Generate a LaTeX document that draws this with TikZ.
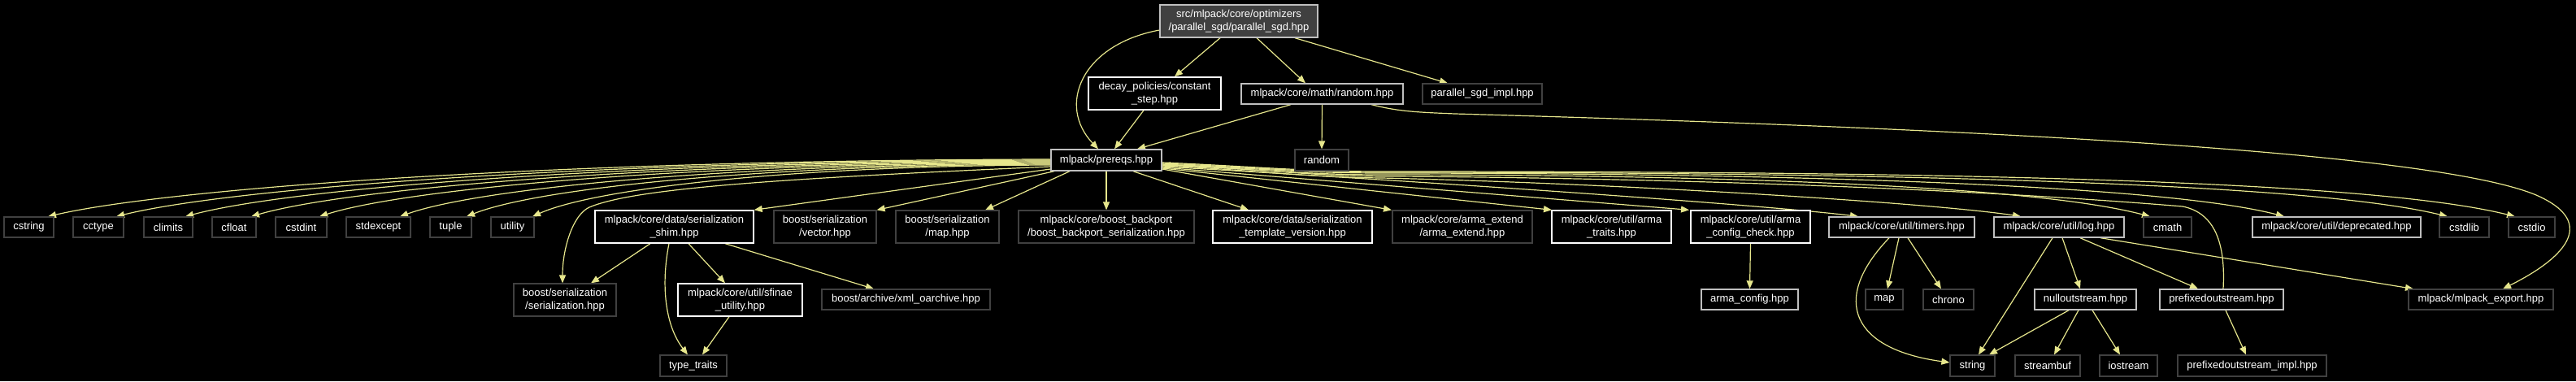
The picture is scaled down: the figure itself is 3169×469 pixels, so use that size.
\documentclass[tikz,border=0pt]{standalone}
\usepackage{fontspec}
\setmainfont{Liberation Sans}
\usetikzlibrary{arrows.meta,calc}
\definecolor{edgec}{RGB}{230,230,140}
\definecolor{darkb}{RGB}{64,64,64}
\definecolor{lightb}{RGB}{191,191,191}
\definecolor{topfill}{RGB}{64,64,64}
\pgfdeclarelayer{edgelayer}
\pgfsetlayers{edgelayer,main}
\newcommand\mknode[7]{%
 \pgfmathsetmacro\ndcx{(#2+#4)/2}%
 \pgfmathsetmacro\ndcy{(#3+#5)/2}%
 \pgfmathsetmacro\ndw{#4-#2}%
 \pgfmathsetmacro\ndh{#5-#3}%
 \node[#6, minimum width=\ndw pt, minimum height=\ndh pt] (#1) at (\ndcx,\ndcy) {#7};}
\begin{document}
\begin{tikzpicture}[x=1pt,y=-1pt,
 nbase/.style={rectangle, inner sep=0pt, align=center, text=white, fill=black, font=\fontsize{13}{15.3}\selectfont},
 sysbox/.style={nbase, draw=darkb, line width=1.2pt},
 docbox/.style={nbase, draw=white, line width=1.4pt},
 grybox/.style={nbase, draw=lightb, line width=1.4pt},
 topbox/.style={nbase, draw=lightb, fill=topfill, line width=1.4pt},
 dep/.style={draw=edgec, line width=1.2pt, -{Triangle[length=10pt,width=8pt,fill=edgec]}},
]
\useasboundingbox (0,0) rectangle (3169,469);
% row 0-2
\mknode{top}{1427}{6}{1621}{46}{topbox}{src/mlpack/core/optimizers\\/parallel\_sgd/parallel\_sgd.hpp}
\mknode{decay}{1339}{95}{1502}{135}{docbox}{decay\_policies/constant\\\_step.hpp}
\mknode{randhpp}{1527}{103}{1726}{128}{grybox}{mlpack/core/math/random.hpp}
\mknode{impl}{1750}{103}{1897}{128}{sysbox}{parallel\_sgd\_impl.hpp}
\mknode{prereqs}{1293}{184}{1429}{210}{grybox}{mlpack/prereqs.hpp}
\mknode{random}{1593}{184}{1659}{210}{sysbox}{random}
% row 3
\mknode{cstring}{5}{267}{66}{292}{sysbox}{cstring}
\mknode{cctype}{90}{267}{152}{292}{sysbox}{cctype}
\mknode{climits}{177}{267}{237}{292}{sysbox}{climits}
\mknode{cfloat}{261}{267}{315}{292}{sysbox}{cfloat}
\mknode{cstdint}{339}{267}{402}{292}{sysbox}{cstdint}
\mknode{stdexcept}{426}{267}{505}{292}{sysbox}{stdexcept}
\mknode{tuple}{529}{267}{580}{292}{sysbox}{tuple}
\mknode{utility}{604}{267}{657}{292}{sysbox}{utility}
\mknode{shim}{732}{259}{927}{299}{docbox}{mlpack/core/data/serialization\\\_shim.hpp}
\mknode{vector}{952}{259}{1078}{299}{sysbox}{boost/serialization\\/vector.hpp}
\mknode{bmap}{1102}{259}{1229}{299}{sysbox}{boost/serialization\\/map.hpp}
\mknode{backport}{1253}{259}{1469}{299}{sysbox}{mlpack/core/boost\_backport\\/boost\_backport\_serialization.hpp}
\mknode{templ}{1492}{259}{1688}{299}{docbox}{mlpack/core/data/serialization\\\_template\_version.hpp}
\mknode{armaext}{1713}{259}{1885}{299}{sysbox}{mlpack/core/arma\_extend\\/arma\_extend.hpp}
\mknode{armatr}{1909}{259}{2056}{299}{docbox}{mlpack/core/util/arma\\\_traits.hpp}
\mknode{acc}{2080}{259}{2227}{299}{docbox}{mlpack/core/util/arma\\\_config\_check.hpp}
\mknode{timers}{2250}{267}{2429}{292}{grybox}{mlpack/core/util/timers.hpp}
\mknode{log}{2453}{267}{2613}{292}{grybox}{mlpack/core/util/log.hpp}
\mknode{cmath}{2637}{267}{2696}{292}{sysbox}{cmath}
\mknode{deprec}{2771}{267}{2978}{292}{grybox}{mlpack/core/util/deprecated.hpp}
\mknode{cstdlib}{3001}{267}{3062}{292}{sysbox}{cstdlib}
\mknode{cstdio}{3086}{267}{3143}{292}{sysbox}{cstdio}
% row 4
\mknode{serial}{632}{349}{758}{389}{sysbox}{boost/serialization\\/serialization.hpp}
\mknode{sfinae}{834}{349}{987}{389}{docbox}{mlpack/core/util/sfinae\\\_utility.hpp}
\mknode{xml}{1011}{356}{1218}{381}{sysbox}{boost/archive/xml\_oarchive.hpp}
\mknode{armacfg}{2093}{356}{2212}{381}{grybox}{arma\_config.hpp}
\mknode{map}{2295}{356}{2341}{381}{sysbox}{map}
\mknode{chrono}{2366}{356}{2428}{381}{sysbox}{chrono}
\mknode{nullout}{2503}{356}{2628}{381}{grybox}{nulloutstream.hpp}
\mknode{prefout}{2657}{356}{2809}{381}{grybox}{prefixedoutstream.hpp}
\mknode{export}{2963}{356}{3141}{381}{sysbox}{mlpack/mlpack\_export.hpp}
% row 5
\mknode{typetr}{812}{437}{894}{463}{sysbox}{type\_traits}
\mknode{string}{2399}{437}{2454}{463}{sysbox}{string}
\mknode{streambuf}{2479}{437}{2559}{463}{sysbox}{streambuf}
\mknode{iostream}{2583}{437}{2654}{463}{sysbox}{iostream}
\mknode{pimpl}{2679}{437}{2862}{463}{sysbox}{prefixedoutstream\_impl.hpp}
\begin{pgfonlayer}{edgelayer}
\fill[black] (0,0) rectangle (3169,469);
% edges from top
\draw[dep] (top.west |- 0,37) .. controls (1330,55) and (1300,130) .. (prereqs.north -| 1351,0);
\draw[dep] (top.south -| 1501,0) -- (decay.north -| 1445,0);
\draw[dep] (top.south -| 1546,0) -- (randhpp.north -| 1606,0);
\draw[dep] (top.south -| 1593,0) -- (impl.north -| 1781,0);
\draw[dep] (decay.south -| 1407,0) -- (prereqs.north -| 1371,0);
\draw[dep] (randhpp.south -| 1588,0) -- (prereqs.north -| 1399,0);
\draw[dep] (randhpp.south) -- (random.north);
\draw[dep] (randhpp.south -| 1687,0) .. controls (1720,137) and (1740,138) .. (1790,140)
   .. controls (2500,160) and (3000,190) .. (3120,240)
   .. controls (3200,275) and (3150,320) .. (export.north -| 3079,0);
% left fan
\draw[dep] (prereqs.west |- 0,196) .. controls (676,197) and (207,232) .. (cstring.north -| 59,0);
\draw[dep] (prereqs.west |- 0,197) .. controls (718,198) and (281,232) .. (cctype.north -| 143,0);
\draw[dep] (prereqs.west |- 0,198) .. controls (760,199) and (356,232) .. (climits.north -| 228,0);
\draw[dep] (prereqs.west |- 0,199) .. controls (801,200) and (427,232) .. (cfloat.north -| 309,0);
\draw[dep] (prereqs.west |- 0,200) .. controls (843,201) and (501,232) .. (cstdint.north -| 393,0);
\draw[dep] (prereqs.west |- 0,201) .. controls (892,202) and (588,232) .. (stdexcept.north -| 492,0);
\draw[dep] (prereqs.west |- 0,202) .. controls (933,203) and (660,232) .. (tuple.north -| 574,0);
\draw[dep] (prereqs.west |- 0,203) .. controls (974,204) and (732,232) .. (utility.north -| 655,0);
\draw[dep] (prereqs.west |- 0,205) .. controls (950,220) and (780,232) .. (725,255)
   .. controls (705,264) and (692,305) .. (serial.north -| 692,0);
\draw[dep] (prereqs.west |- 0,208) -- (shim.north east);
\draw[dep] (prereqs.south -| 1297,0) -- (vector.north east);
\draw[dep] (prereqs.south -| 1316,0) -- (bmap.north -| 1212,0);
\draw[dep] (prereqs.south) -- (backport.north);
\draw[dep] (prereqs.south -| 1394,0) -- (templ.north -| 1536,0);
% right fan
\draw[dep] (prereqs.east |- 0,208) -- (armaext.north -| 1712,0);
\draw[dep] (prereqs.east |- 0,207) -- (armatr.north -| 1909,0);
\draw[dep] (prereqs.east |- 0,206) -- (acc.north -| 2078,0);
\draw[dep] (prereqs.east |- 0,205) .. controls (1700,220) and (2150,250) .. (timers.north -| 2286,0);
\draw[dep] (prereqs.east |- 0,204) .. controls (1530,208) and (1600,218) .. (1700,219)
   .. controls (2000,226) and (2380,250) .. (log.north -| 2486,0);
\draw[dep] (prereqs.east |- 0,203) .. controls (1530,207) and (1600,215) .. (1700,215)
   .. controls (2100,215) and (2500,228) .. (cmath.north -| 2645,0);
\draw[dep] (prereqs.east |- 0,202) .. controls (1530,206) and (1600,213) .. (1700,213)
   .. controls (2150,213) and (2650,225) .. (deprec.north -| 2810,0);
\draw[dep] (prereqs.east |- 0,201) .. controls (1530,205) and (1600,212) .. (1700,212)
   .. controls (2250,212) and (2830,222) .. (cstdlib.north -| 3011,0);
\draw[dep] (prereqs.east |- 0,200) .. controls (1530,204) and (1600,211) .. (1700,211)
   .. controls (2300,211) and (2900,218) .. (cstdio.north -| 3094,0);
\draw[dep] (prefout.north -| 2735,0) .. controls (2738,300) and (2725,262) .. (2685,254)
   .. controls (2300,222) and (1800,217) .. (1700,217)
   .. controls (1600,216) and (1530,206) .. (prereqs.east |- 0,203);
% shim
\draw[dep] (shim.south -| 800,0) -- (serial.north -| 727,0);
\draw[dep] (shim.south -| 823,0) .. controls (813,350) and (818,400) .. (typetr.north -| 846,0);
\draw[dep] (shim.south -| 847,0) -- (sfinae.north -| 892,0);
\draw[dep] (shim.south -| 892,0) -- (xml.north -| 1075,0);
\draw[dep] (sfinae.south -| 897,0) -- (typetr.north -| 864,0);
\draw[dep] (acc.south) -- (armacfg.north);
% timers
\draw[dep] (timers.south -| 2336,0) -- (map.north -| 2322,0);
\draw[dep] (timers.south -| 2347,0) -- (chrono.north -| 2388,0);
\draw[dep] (timers.south -| 2324,0) .. controls (2250,370) and (2280,430) .. (string.west |- 0,446);
% log
\draw[dep] (log.south -| 2525,0) -- (string.north -| 2434,0);
\draw[dep] (log.south -| 2537,0) -- (nullout.north -| 2559,0);
\draw[dep] (log.south -| 2559,0) -- (prefout.north -| 2704,0);
\draw[dep] (log.south -| 2584,0) -- (export.north -| 2969,0);
% nullout
\draw[dep] (nullout.south -| 2545,0) -- (string.north -| 2447,0);
\draw[dep] (nullout.south -| 2557,0) -- (streambuf.north -| 2527,0);
\draw[dep] (nullout.south -| 2574,0) -- (iostream.north -| 2608,0);
\draw[dep] (prefout.south -| 2738,0) -- (pimpl.north -| 2763,0);
\end{pgfonlayer}
\end{tikzpicture}
\end{document}
